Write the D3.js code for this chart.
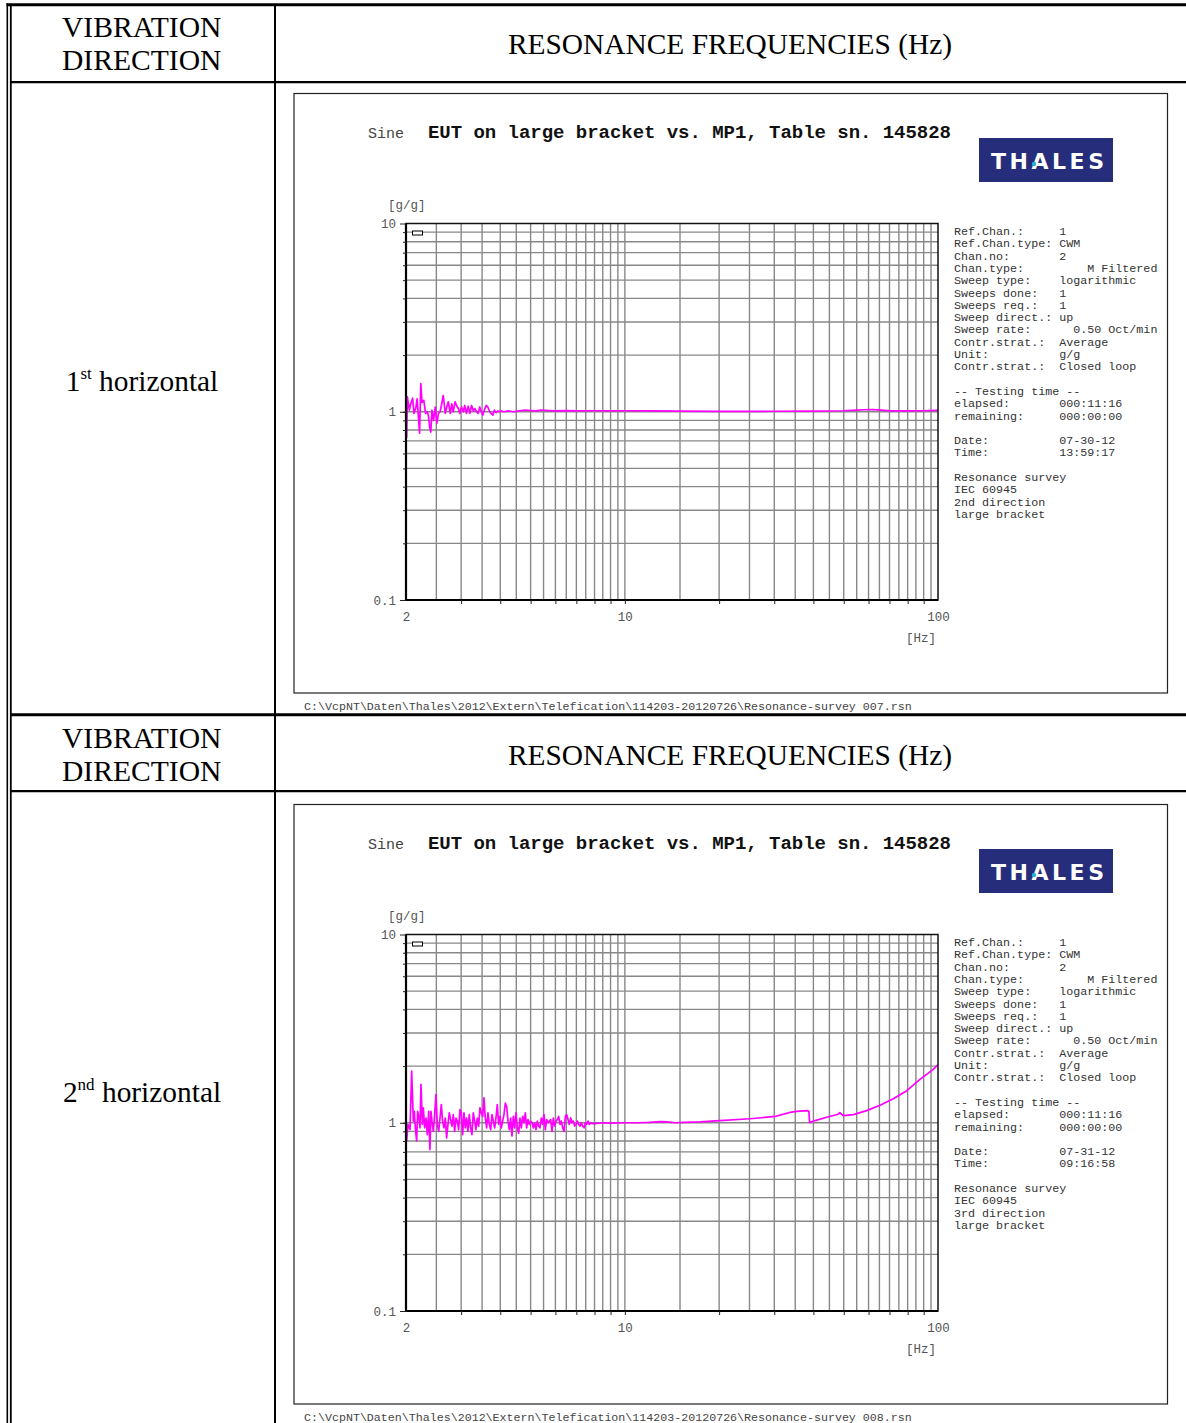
<!DOCTYPE html>
<html>
<head>
<meta charset="utf-8">
<script src="https://cdnjs.cloudflare.com/ajax/libs/d3/7.8.5/d3.min.js"></script>
<style>
html, body { margin: 0; padding: 0; background: #fff; }
svg { display: block; }
</style>
</head>
<body>
<svg id="page" width="1186" height="1423"></svg>
<script>
// ---- data ----
var xTickValues = [2, 10, 100];
var yTickValues = [0.1, 1, 10];
var xMinorTicks = [3, 4, 5, 6, 7, 8, 9, 10, 20, 30, 40, 50, 60, 70, 80, 90];
var xGridLines = [2.5, 3, 3.5, 4, 4.5, 5, 5.5, 6, 6.5, 7, 7.5, 8, 8.5, 9, 9.5, 10,
	15, 20, 25, 30, 35, 40, 45, 50, 55, 60, 65, 70, 75, 80, 85, 90, 95];
var yGridLines = [0.2, 0.3, 0.4, 0.5, 0.6, 0.7, 0.8, 0.9, 1, 2, 3, 4, 5, 6, 7, 8, 9];

var dirNumber = ["1", "2"];
var dirSuffix = ["st", "nd"];

// 1st horizontal (Resonance-survey 007)
var freq1 = [2.00, 2.01, 2.02, 2.05, 2.07, 2.10, 2.12, 2.15, 2.17, 2.19, 2.21, 2.23, 2.25, 2.28,
	2.31, 2.34, 2.36, 2.38, 2.40, 2.42, 2.45, 2.48, 2.51, 2.54, 2.57, 2.60, 2.63, 2.67, 2.70,
	2.73, 2.77, 2.80, 2.83, 2.87, 2.90, 2.94, 2.97, 3.01, 3.05, 3.08, 3.12, 3.16, 3.20, 3.24,
	3.28, 3.32, 3.36, 3.40, 3.44, 3.48, 3.52, 3.57, 3.61, 3.65, 3.70, 3.74, 3.79, 3.83, 3.88,
	3.93, 3.97, 4.02, 4.10, 4.25, 4.40, 4.60, 4.80, 5.00, 5.20, 5.40, 5.70, 6.00, 6.50, 7.00,
	8.00, 9.00, 10.0, 12.0, 15.0, 20.0, 25.0, 30.0, 40.0, 50.0, 55.0, 58.0, 62.0, 66.0, 70.0,
	80.0, 90.0, 100];
var gain1 = [1.18, 0.73, 1.20, 1.02, 1.10, 1.18, 0.98, 1.05, 1.17, 0.95, 0.77, 1.41, 1.12, 1.15,
	0.98, 1.00, 0.95, 0.83, 0.78, 1.02, 0.90, 1.06, 0.87, 0.98, 1.00, 1.10, 1.22, 0.98, 1.06,
	1.13, 0.98, 1.10, 1.00, 1.13, 1.08, 1.04, 0.98, 1.06, 1.00, 1.08, 0.98, 1.07, 0.98, 1.08,
	1.01, 1.04, 1.00, 0.98, 1.06, 1.00, 0.96, 1.04, 1.08, 1.06, 1.00, 0.98, 0.96, 1.02, 0.99,
	1.01, 1.00, 1.01, 1.00, 1.01, 1.00, 1.01, 1.02, 1.015, 1.01, 1.02, 1.015, 1.01, 1.015, 1.01,
	1.012, 1.01, 1.012, 1.01, 1.008, 1.005, 1.005, 1.006, 1.008, 1.012, 1.02, 1.025, 1.026, 1.02, 1.01,
	1.01, 1.012, 1.018];

// 2nd horizontal (Resonance-survey 008)
var freq2 = [2.00, 2.01, 2.03, 2.06, 2.085, 2.111, 2.126, 2.142, 2.163, 2.179, 2.200, 2.217, 2.233,
	2.256, 2.272, 2.294, 2.317, 2.340, 2.363, 2.385, 2.403, 2.421, 2.445, 2.469, 2.493, 2.518,
	2.543, 2.568, 2.593, 2.618, 2.644, 2.670, 2.696, 2.723, 2.750, 2.777, 2.804, 2.832, 2.860,
	2.888, 2.916, 2.945, 2.974, 3.003, 3.033, 3.063, 3.093, 3.123, 3.154, 3.185, 3.217, 3.248,
	3.280, 3.313, 3.345, 3.378, 3.412, 3.445, 3.479, 3.514, 3.548, 3.583, 3.619, 3.654, 3.690,
	3.727, 3.764, 3.801, 3.838, 3.876, 3.914, 3.953, 3.992, 4.031, 4.071, 4.111, 4.152, 4.193,
	4.234, 4.276, 4.318, 4.360, 4.403, 4.447, 4.490, 4.535, 4.579, 4.624, 4.670, 4.716, 4.762,
	4.809, 4.857, 4.905, 4.953, 5.002, 5.051, 5.101, 5.151, 5.202, 5.253, 5.305, 5.357, 5.410,
	5.464, 5.518, 5.572, 5.627, 5.682, 5.738, 5.795, 5.852, 5.910, 5.968, 6.027, 6.087, 6.147,
	6.207, 6.268, 6.330, 6.393, 6.456, 6.519, 6.584, 6.649, 6.714, 6.780, 6.847, 6.915, 6.983,
	7.052, 7.121, 7.192, 7.263, 7.334, 7.407, 7.480, 7.553, 7.628, 7.703, 7.779, 7.856,
	8.0, 8.5, 9.0, 10.0, 11.0, 12.0, 13.0, 13.6, 14.5, 15.5, 17.4, 20.1, 25.1, 30.2, 31.7, 34.1,
	35.4, 38.2, 38.7, 38.9, 40.5, 44.1, 48.0, 48.6, 49.8, 53.7, 59.2, 65.3, 72.0, 79.5, 87.6,
	96.6, 100];
var gain2 = [0.80, 0.80, 0.98, 0.92, 1.88, 1.02, 1.15, 0.94, 0.80, 1.15, 1.06, 0.94, 1.60,
	0.98, 1.20, 0.94, 1.06, 0.865, 1.15, 0.72, 1.15, 1.02, 0.90, 1.105, 1.41, 0.98,
	0.90, 1.06, 1.25, 1.02, 0.94, 1.06, 0.83, 0.98, 1.13, 1.04, 0.96, 1.105, 0.90,
	1.06, 1.02, 0.92, 1.175, 1.13, 0.865, 1.13, 0.94, 1.06, 0.90, 1.105, 0.94, 0.865,
	1.13, 1.02, 0.92, 1.06, 0.96, 1.20, 1.13, 1.08, 1.355, 1.06, 0.94, 1.13, 0.98,
	0.92, 1.105, 1.02, 0.94, 1.06, 1.25, 0.98, 1.08, 0.94, 1.02, 1.105, 1.27, 1.22,
	1.02, 0.92, 1.06, 0.85, 1.08, 0.94, 1.13, 0.94, 0.88, 1.06, 0.94, 1.08, 1.00,
	1.13, 0.94, 1.04, 0.98, 1.02, 1.00, 0.94, 1.00, 0.92, 1.02, 0.96, 0.94, 1.06,
	0.98, 1.105, 0.92, 1.04, 1.00, 1.02, 1.04, 0.90, 1.06, 0.96, 1.02, 1.04, 1.08,
	0.98, 1.02, 0.94, 0.90, 1.08, 1.105, 1.04, 0.98, 1.06, 1.00, 1.02, 0.96, 0.98,
	1.02, 0.98, 0.96, 1.00, 0.96, 0.94, 1.00, 0.98, 1.02, 0.98, 1.00, 0.99,
	0.99, 1.00, 0.995, 1.00, 1.00, 1.005, 1.015, 1.01, 1.00, 1.005, 1.01, 1.027, 1.05, 1.08, 1.105, 1.14,
	1.15, 1.16, 1.15, 1.00, 1.027, 1.07, 1.11, 1.13, 1.09, 1.105, 1.16, 1.24, 1.34, 1.48, 1.70,
	1.92, 2.04];

var info1 = ["Ref.Chan.:     1", "Ref.Chan.type: CWM", "Chan.no:       2",
	"Chan.type:         M Filtered", "Sweep type:    logarithmic", "Sweeps done:   1",
	"Sweeps req.:   1", "Sweep direct.: up", "Sweep rate:      0.50 Oct/min",
	"Contr.strat.:  Average", "Unit:          g/g", "Contr.strat.:  Closed loop", "",
	"-- Testing time --", "elapsed:       000:11:16", "remaining:     000:00:00", "",
	"Date:          07-30-12", "Time:          13:59:17", "",
	"Resonance survey", "IEC 60945", "2nd direction", "large bracket"];
var info2 = info1.slice(0, 17).concat(["Date:          07-31-12", "Time:          09:16:58", "",
	"Resonance survey", "IEC 60945", "3rd direction", "large bracket"]);

var footers = ["C:\\VcpNT\\Daten\\Thales\\2012\\Extern\\Telefication\\114203-20120726\\Resonance-survey 007.rsn",
	"C:\\VcpNT\\Daten\\Thales\\2012\\Extern\\Telefication\\114203-20120726\\Resonance-survey 008.rsn"];

var MONO = "'Liberation Mono','Courier New',monospace";
var SERIF = "'Liberation Serif','Times New Roman',serif";

var svg = d3.select("#page");
svg.append("rect").attr("width", 1186).attr("height", 1423).attr("fill", "#fff");

var rowOffsets = [0, 711];

var drawPanel = function( dy, freq, gain, info, footer, idx ) {

	var g = svg.append("g").attr("transform", "translate(0," + dy + ")");

	// header row
	var hdr = g.append("text").attr("font-family", SERIF).attr("font-size", 29.6).attr("fill", "#000");
	hdr.append("tspan").attr("x", 62).attr("y", 37).text("VIBRATION");
	hdr.append("tspan").attr("x", 62).attr("y", 70).text("DIRECTION");
	g.append("text").attr("x", 730).attr("y", 54)
		.attr("text-anchor", "middle").attr("font-family", SERIF).attr("font-size", 29.4)
		.text("RESONANCE FREQUENCIES (Hz)");

	// direction label with superscript
	var dl = g.append("text").attr("x", 142).attr("y", 391).attr("text-anchor", "middle")
		.attr("font-family", SERIF).attr("font-size", 29.4);
	dl.append("tspan").text(dirNumber[idx]);
	dl.append("tspan").attr("font-size", 17).attr("dy", -12).text(dirSuffix[idx]);
	dl.append("tspan").attr("dy", 12).text(" horizontal");

	// chart frame
	g.append("rect").attr("x", 294).attr("y", 93.5).attr("width", 873.5).attr("height", 599.5)
		.attr("fill", "none").attr("stroke", "#222").attr("stroke-width", 1.2);

	g.append("text").attr("x", 368).attr("y", 137.5).attr("font-family", MONO)
		.attr("font-size", 15).attr("fill", "#444").text("Sine");
	g.append("text").attr("x", 428).attr("y", 138).attr("font-family", MONO)
		.attr("font-size", 19).attr("font-weight", "bold").attr("fill", "#111")
		.attr("textLength", 523).attr("lengthAdjust", "spacing")
		.text("EUT on large bracket vs. MP1, Table sn. 145828");

	// logo
	g.append("rect").attr("x", 979).attr("y", 138).attr("width", 134).attr("height", 44)
		.attr("fill", "#262d7b");
	g.append("text").attr("x", 991).attr("y", 169).attr("font-family", "'DejaVu Sans',Verdana,sans-serif")
		.attr("font-size", 22).attr("font-weight", "bold").attr("fill", "#fff")
		.attr("textLength", 113).attr("lengthAdjust", "spacing").text("THALES");
	g.append("circle").attr("cx", 1034).attr("cy", 164).attr("r", 2.2).attr("fill", "#21b3d6");

	// plot
	var x = d3.scaleLog().domain([2, 100]).range([406, 938]);
	var y = d3.scaleLog().domain([0.1, 10]).range([600, 223.5]);

	g.append("text").attr("x", 388).attr("y", 209).attr("font-family", MONO)
		.attr("font-size", 12.5).attr("fill", "#555").text("[g/g]");
	g.append("text").attr("x", 936).attr("y", 642).attr("text-anchor", "end").attr("font-family", MONO)
		.attr("font-size", 12.5).attr("fill", "#555").text("[Hz]");

	var grid = g.append("g").attr("stroke", "#888").attr("stroke-width", 1.4);
	grid.selectAll(".gx").data(xGridLines).enter().append("line")
		.attr("x1", function(d) { return x(d); }).attr("x2", function(d) { return x(d); })
		.attr("y1", y(10)).attr("y2", y(0.1));
	grid.selectAll(".gy").data(yGridLines).enter().append("line")
		.attr("y1", function(d) { return y(d); }).attr("y2", function(d) { return y(d); })
		.attr("x1", x(2)).attr("x2", x(100));

	var clipId = "clip" + idx;
	g.append("clipPath").attr("id", clipId).append("rect")
		.attr("x", x(2)).attr("y", y(10)).attr("width", x(100) - x(2)).attr("height", y(0.1) - y(10));

	var line = d3.line()
		.x(function(d) { return x(d[0]); })
		.y(function(d) { return y(d[1]); });
	g.append("path").datum(d3.zip(freq, gain)).attr("clip-path", "url(#" + clipId + ")")
		.attr("d", line).attr("fill", "none").attr("stroke", "#ff00ff")
		.attr("stroke-width", 1.7).attr("stroke-linejoin", "round");

	// plot border
	g.append("rect").attr("x", x(2)).attr("y", y(10)).attr("width", x(100) - x(2))
		.attr("height", y(0.1) - y(10)).attr("fill", "none").attr("stroke", "#111").attr("stroke-width", 1.5);
	g.append("line").attr("x1", x(2)).attr("x2", x(2)).attr("y1", y(10)).attr("y2", y(0.1))
		.attr("stroke", "#000").attr("stroke-width", 2.2);
	g.append("line").attr("x1", x(2)).attr("x2", x(100)).attr("y1", y(0.1)).attr("y2", y(0.1))
		.attr("stroke", "#000").attr("stroke-width", 2);

	// legend marker
	g.append("rect").attr("x", 412.5).attr("y", 231).attr("width", 10).attr("height", 4)
		.attr("fill", "#fff").attr("stroke", "#000").attr("stroke-width", 1);

	// axes
	var xAxis = g.append("g").attr("transform", "translate(0," + y(0.1) + ")")
		.call(d3.axisBottom(x).tickValues(xTickValues).tickSize(0).tickPadding(12)
			.tickFormat(d3.format("d")));
	xAxis.select(".domain").remove();
	xAxis.attr("font-family", MONO).attr("font-size", 12.5);
	xAxis.selectAll("text").attr("fill", "#555");

	var xMinor = g.append("g").attr("transform", "translate(0," + y(0.1) + ")")
		.call(d3.axisBottom(x).tickValues(xMinorTicks).tickSize(4).tickFormat(""));
	xMinor.select(".domain").remove();
	xMinor.selectAll("line").attr("stroke", "#222");

	var yAxis = g.append("g").attr("transform", "translate(" + x(2) + ",0)")
		.call(d3.axisLeft(y).tickValues(yTickValues).tickSize(6).tickPadding(4)
			.tickFormat(d3.format("~g")));
	yAxis.select(".domain").remove();
	yAxis.attr("font-family", MONO).attr("font-size", 12.5);
	yAxis.selectAll("text").attr("fill", "#555");
	yAxis.selectAll("line").attr("stroke", "#222");

	var yMinor = g.append("g").attr("transform", "translate(" + x(2) + ",0)")
		.call(d3.axisLeft(y).tickValues(yGridLines).tickSize(3).tickFormat(""));
	yMinor.select(".domain").remove();
	yMinor.selectAll("line").attr("stroke", "#222");

	// info block
	var infoText = g.append("text").attr("font-family", MONO).attr("font-size", 11.7)
		.attr("fill", "#333").style("white-space", "pre");
	infoText.selectAll("tspan").data(info).enter().append("tspan")
		.attr("x", 954).attr("y", function(d, i) { return 235 + i * 12.3; })
		.text(function(d) { return d; });

	// file path
	g.append("text").attr("x", 304).attr("y", 710).attr("font-family", MONO)
		.attr("font-size", 11.65).attr("fill", "#444").style("white-space", "pre").text(footer);
};

drawPanel(rowOffsets[0], freq1, gain1, info1, footers[0], 0);
drawPanel(rowOffsets[1], freq2, gain2, info2, footers[1], 1);

// table rules
var rules = svg.append("g").attr("stroke", "#000");
rules.append("line").attr("x1", 6.5).attr("x2", 1186).attr("y1", 4.7).attr("y2", 4.7).attr("stroke-width", 3);
rules.append("line").attr("x1", 7.3).attr("x2", 7.3).attr("y1", 3.2).attr("y2", 1423).attr("stroke-width", 1.6);
rules.append("line").attr("x1", 10.8).attr("x2", 10.8).attr("y1", 6).attr("y2", 1423).attr("stroke-width", 1.8);
rules.append("line").attr("x1", 275).attr("x2", 275).attr("y1", 6).attr("y2", 1423).attr("stroke-width", 2);
rules.append("line").attr("x1", 10).attr("x2", 1186).attr("y1", 82.2).attr("y2", 82.2).attr("stroke-width", 2.3);
rules.append("line").attr("x1", 10).attr("x2", 1186).attr("y1", 714.7).attr("y2", 714.7).attr("stroke-width", 3);
rules.append("line").attr("x1", 10).attr("x2", 1186).attr("y1", 791.2).attr("y2", 791.2).attr("stroke-width", 2.2);
</script>
</body>
</html>
